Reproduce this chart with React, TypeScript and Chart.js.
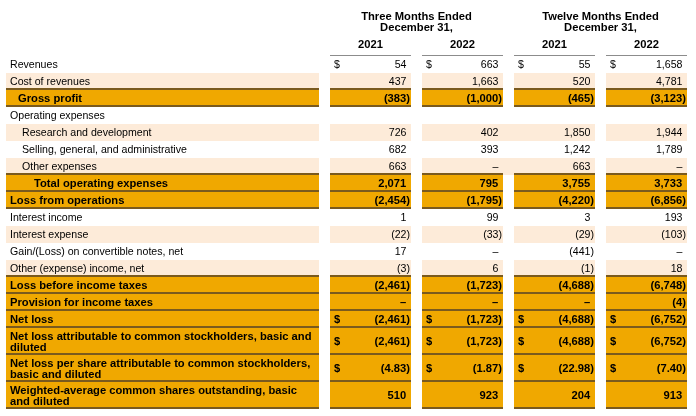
import React, { useEffect, useRef } from "react";
import { Chart, registerables } from "chart.js";

Chart.register(...registerables);

// ---------------- DATA ----------------
const groupHeaders = ["Three Months Ended\nDecember 31,", "Twelve Months Ended\nDecember 31,"];
const yearLabels = ["2021", "2022", "2021", "2022"];

const rowLabels = [
  "Revenues",
  "Cost of revenues",
  "Gross profit",
  "Operating expenses",
  "Research and development",
  "Selling, general, and administrative",
  "Other expenses",
  "Total operating expenses",
  "Loss from operations",
  "Interest income",
  "Interest expense",
  "Gain/(Loss) on convertible notes, net",
  "Other (expense) income, net",
  "Loss before income taxes",
  "Provision for income taxes",
  "Net loss",
  "Net loss attributable to common stockholders, basic and\ndiluted",
  "Net loss per share attributable to common stockholders,\nbasic and diluted",
  "Weighted-average common shares outstanding, basic\nand diluted",
];

// plain | shade | total | heading
const rowKinds = [
  "plain", "shade", "total", "heading", "shade", "plain", "shade", "total", "total",
  "plain", "shade", "plain", "shade", "total", "total", "total", "total", "total", "total",
];
const rowIndent = [0, 0, 1, 0, 2, 2, 2, 3, 0, 0, 0, 0, 0, 0, 0, 0, 0, 0, 0];
const rowDollar = [true, false, false, false, false, false, false, false, false, false, false, false, false, false, false, true, true, true, false];
const rowDecimals = [0, 0, 0, 0, 0, 0, 0, 0, 0, 0, 0, 0, 0, 0, 0, 0, 0, 2, 0];

const q4_2021 = [54, 437, -383, null, 726, 682, 663, 2071, -2454, 1, -22, 17, -3, -2461, null, -2461, -2461, -4.83, 510];
const q4_2022 = [663, 1663, -1000, null, 402, 393, null, 795, -1795, 99, -33, null, 6, -1723, null, -1723, -1723, -1.87, 923];
const fy_2021 = [55, 520, -465, null, 1850, 1242, 663, 3755, -4220, 3, -29, -441, -1, -4688, null, -4688, -4688, -22.98, 204];
const fy_2022 = [1658, 4781, -3123, null, 1944, 1789, null, 3733, -6856, 193, -103, null, 18, -6748, -4, -6752, -6752, -7.4, 913];
const seriesValues = [q4_2021, q4_2022, fy_2021, fy_2022];

const gapShadeRows = [4, 6];

// ---------------- LAYOUT / STYLE ----------------
const W = 696;
const H = 416;
const TABLE_TOP = 56;
const TABLE_BOTTOM = 409;
const LABEL_COL: [number, number] = [6, 319];
const VALUE_COLS: [number, number][] = [[330, 411], [422, 503], [514, 595], [606, 687]];
const GAP_COL: [number, number] = [503, 514];
const INDENTS = [4, 12, 16, 28];
const FONT_SIZE = 10.6;
const BOLD_SIZE = 11.2;
const FONT_FAMILY = '"Liberation Sans", Arial, Helvetica, sans-serif';
const LINE_GAP = 11;

const ORANGE = "#F0A800";
const PEACH = "#FDEBD9";
const WHITE = "#FFFFFF";
const BROWN = "#7A5A1E";
const GRAY = "#8C8C8C";

const rowLines = rowLabels.map((l) => l.split("\n").length);
const rowHeights = rowLines.map((n) => 7 + 10 * n);
const rowCenters: number[] = [];
{
  let acc = 0;
  rowHeights.forEach((h) => {
    rowCenters.push(acc + h / 2);
    acc += h;
  });
}
const totalUnits = rowHeights.reduce((a, b) => a + b, 0);

const bgFor = (i: number) => (rowKinds[i] === "total" ? ORANGE : rowKinds[i] === "shade" ? PEACH : WHITE);
const lineBelow = (i: number) => rowKinds[i] === "total" || (i + 1 < rowKinds.length && rowKinds[i + 1] === "total");

function fmt(v: number | null, dec: number): string {
  if (v === null) return "–";
  const s = Math.abs(v).toLocaleString("en-US", { minimumFractionDigits: dec, maximumFractionDigits: dec });
  return v < 0 ? `(${s})` : s;
}

const tablePlugin = {
  id: "tableText",
  afterDatasetsDraw(chart: any) {
    const ctx = chart.ctx as CanvasRenderingContext2D;
    const xs = chart.scales.x;
    const ys = chart.scales.y;
    const px = (v: number) => xs.getPixelForValue(v);
    const py = (v: number) => ys.getPixelForValue(v);
    const top = py(0);
    ctx.save();
    ctx.fillStyle = "#000";
    ctx.textBaseline = "middle";

    // header groups
    ctx.font = `bold ${BOLD_SIZE}px ${FONT_FAMILY}`;
    ctx.textAlign = "center";
    groupHeaders.forEach((g, gi) => {
      const a = VALUE_COLS[gi * 2][0];
      const b = VALUE_COLS[gi * 2 + 1][1];
      const cx = (px(a) + px(b)) / 2;
      g.split("\n").forEach((line, li) => {
        ctx.fillText(line, cx, top - 39 + li * LINE_GAP);
      });
    });
    yearLabels.forEach((y, ci) => {
      const cx = (px(VALUE_COLS[ci][0]) + px(VALUE_COLS[ci][1])) / 2;
      ctx.fillText(y, cx, top - 11);
    });
    // gray rule under years
    ctx.fillStyle = GRAY;
    VALUE_COLS.forEach(([a, b]) => {
      ctx.fillRect(px(a), top - 1, px(b) - px(a), 1);
    });
    ctx.fillStyle = "#000";

    // rows
    rowLabels.forEach((label, i) => {
      const bold = rowKinds[i] === "total";
      ctx.font = `${bold ? "bold " : ""}${bold ? BOLD_SIZE : FONT_SIZE}px ${FONT_FAMILY}`;
      const cy = py(rowCenters[i]);
      const lines = label.split("\n");
      ctx.textAlign = "left";
      lines.forEach((ln, li) => {
        const y = cy + (li - (lines.length - 1) / 2) * LINE_GAP + 0.5;
        ctx.fillText(ln, px(LABEL_COL[0]) + INDENTS[rowIndent[i]], y);
      });
      if (rowKinds[i] === "heading") return;
      const parenW = ctx.measureText(")").width;
      VALUE_COLS.forEach(([a, b], ci) => {
        const v = seriesValues[ci][i];
        const s = fmt(v, rowDecimals[i]);
        let xr = px(b) - 1;
        if (v === null || v >= 0) xr -= parenW;
        ctx.textAlign = "right";
        ctx.fillText(s, xr, cy + 0.5);
        if (rowDollar[i]) {
          ctx.textAlign = "left";
          ctx.fillText("$", px(a) + 4, cy + 0.5);
        }
      });
    });
    ctx.restore();
  },
};

function buildDatasets() {
  const cols: { range: [number, number]; rows: (i: number) => boolean; gap?: boolean }[] = [
    { range: LABEL_COL, rows: () => true },
    ...VALUE_COLS.map((r) => ({ range: r, rows: () => true })),
    { range: GAP_COL, rows: (i: number) => gapShadeRows.includes(i), gap: true },
  ];
  const ds: any[] = [];
  [1, 2].forEach((n) => {
    cols.forEach((col) => {
      const idx = rowLabels.map((_, i) => i).filter((i) => rowLines[i] === n && col.rows(i));
      if (!idx.length) return;
      const thick = 7 + 10 * n;
      ds.push({
        type: "bar",
        data: idx.map((i) => ({ x: col.range, y: rowCenters[i], row: i })),
        backgroundColor: (c: any) => {
          const r = c.raw ? c.raw.row : 0;
          return col.gap ? PEACH : bgFor(r);
        },
        borderColor: BROWN,
        borderWidth: (c: any) => {
          const r = c.raw ? c.raw.row : 0;
          return { top: 0, left: 0, right: 0, bottom: !col.gap && lineBelow(r) ? 2 : 0 };
        },
        borderSkipped: false,
        barThickness: thick,
        maxBarThickness: thick,
        stack: "rows",
        grouped: true,
        inflateAmount: 0,
      });
    });
  });
  return ds;
}

export default function App() {
  const ref = useRef<HTMLCanvasElement | null>(null);
  useEffect(() => {
    document.body.style.margin = "0";
    if (!ref.current) return;
    const chart = new Chart(ref.current, {
      type: "bar",
      data: { datasets: buildDatasets() },
      options: {
        indexAxis: "y",
        animation: false,
        responsive: false,
        devicePixelRatio: 1,
        layout: { padding: { top: TABLE_TOP, bottom: H - TABLE_BOTTOM, left: 0, right: 0 } },
        scales: {
          x: { type: "linear", min: 0, max: W, display: false, stacked: false },
          y: { type: "linear", min: 0, max: totalUnits, reverse: true, display: false, offset: false },
        },
        plugins: { legend: { display: false }, tooltip: { enabled: false } },
      },
      plugins: [tablePlugin],
    } as any);
    return () => chart.destroy();
  }, []);
  return <canvas ref={ref} width={W} height={H} style={{ display: "block", width: W, height: H }} />;
}
